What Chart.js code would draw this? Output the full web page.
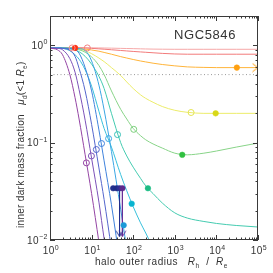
<!DOCTYPE html>
<html><head><meta charset="utf-8">
<script src="https://cdn.jsdelivr.net/npm/chart.js@4.4.1/dist/chart.umd.min.js"></script>
<style>html,body{margin:0;padding:0;background:#fff;}canvas{display:block;}</style>
</head><body>
<canvas id="c" width="273" height="273"></canvas>
<script>
// ---------------- data ----------------
const xGrid = [1, 1.5, 2, 3, 4, 5, 7, 10, 15, 20, 30, 50, 70, 100, 150, 200, 300, 500, 1000, 2000, 5000, 10000, 30000, 100000];

const curvePurple  = [0.935,0.90,0.80,0.50,0.29,0.175,0.075,0.030,0.0095,0.004];
const curveViolet  = [0.935,0.93,0.90,0.73,0.53,0.35,0.17,0.069,0.0245,0.0103,0.0035];
const curveIndigo  = [0.935,0.935,0.93,0.89,0.77,0.58,0.34,0.154,0.055,0.026,0.0081,0.0018];
const curveBlue    = [0.935,0.935,0.935,0.925,0.90,0.83,0.59,0.34,0.135,0.065,0.023,0.0052];
const curveSky     = [0.935,0.935,0.935,0.935,0.935,0.925,0.885,0.69,0.39,0.217,0.081,0.0207,0.008,0.0025];
const curveCyan    = [0.94,0.94,0.93,0.88,0.80,0.72,0.56,0.38,0.21,0.14,0.09,0.047,0.032,0.022,0.015,0.0118,0.0082,0.005];
const curveTeal    = [0.94,0.94,0.935,0.92,0.895,0.86,0.77,0.64,0.48,0.36,0.20,0.10,0.073,0.056,0.043,0.036,0.030,0.024,0.019,0.0168,0.0155,0.0148,0.0141,0.0136];
const curveGreen   = [0.94,0.94,0.94,0.935,0.92,0.90,0.85,0.76,0.62,0.50,0.34,0.22,0.175,0.14,0.118,0.107,0.097,0.088,0.078,0.075,0.078,0.082,0.09,0.099];
const curveYellow  = [0.94,0.94,0.94,0.935,0.93,0.915,0.88,0.82,0.74,0.68,0.59,0.49,0.42,0.36,0.31,0.285,0.26,0.235,0.215,0.205,0.20,0.20,0.20,0.20];
const curveOrange  = [0.945,0.945,0.945,0.94,0.935,0.93,0.915,0.895,0.87,0.845,0.81,0.765,0.74,0.715,0.69,0.675,0.655,0.635,0.615,0.60,0.593,0.59,0.59,0.59];
const curveRed     = [0.945,0.945,0.945,0.945,0.944,0.942,0.938,0.93,0.92,0.912,0.90,0.885,0.875,0.865,0.855,0.848,0.838,0.826,0.815,0.81,0.81,0.81,0.81,0.81];
const curvePink    = [0.945,0.945,0.945,0.945,0.945,0.945,0.944,0.942,0.94,0.938,0.935,0.93,0.927,0.924,0.92,0.917,0.914,0.912,0.91,0.91,0.91,0.91,0.91,0.91];

const openX  = [7.5, 9.9, 13, 17.3, 25.6, 42, 103, 2460, 3.4, 7.9];
const openY  = [0.062, 0.073, 0.085, 0.098, 0.110, 0.121, 0.137, 0.204, 0.94, 0.94];
const filledX = [59, 92, 226, 1510, 9600, 31000, 4.0];
const filledY = [0.0142, 0.0236, 0.034, 0.075, 0.20, 0.59, 0.94];
const limitX = [33, 40, 47, 55];
const limitY = [0.034, 0.034, 0.034, 0.034];
const limitStemX = [47, 55];
const limitFloor = 0.0109;
const arrowOrangeX = [100000];
const arrowOrangeY = [0.59];
const refLevel = 0.5;
const xTickValues = [1, 10, 100, 1000, 10000, 100000];
const xTickExps = ['0','1','2','3','4','5'];
const yTickValues = [1, 0.1, 0.01];
const yTickExps = ['0','\u22121','\u22122'];
const galaxyName = 'NGC5846';

// ---------------- styles ----------------
const curves = [
  [curvePurple,'#9444a4'],[curveViolet,'#7c52b8'],[curveIndigo,'#5466cc'],[curveBlue,'#3f82dc'],
  [curveSky,'#3aa6e4'],[curveCyan,'#38c0dc'],[curveTeal,'#44cbb0'],[curveGreen,'#88d488'],
  [curveYellow,'#ecec6a'],[curveOrange,'#ffb43a'],[curveRed,'#f27a7a'],[curvePink,'#f6a8a8']
];
const openColors = ['#9444a4','#7c52b8','#5466cc','#3f82dc','#3aa6e4','#38c0b8','#7cd07c','#e4e450','#f49090','#f28080'];
const filledColors = ['#1c9ad8','#08b4d0','#1cbc84','#30c040','#d8d818','#ffa010','#ff3010'];
const limitColors = ['#22308e','#1e2c88','#2c3096','#5c2a8e'];
const stemColors = ['#22308e','#6a3098'];

function pts(arr){ const out=[]; arr.forEach((v,i)=>{ if(v!=null) out.push({x:xGrid[i],y:v}); }); return out; }

function chevronRight(color){
  const c=document.createElement('canvas'); c.width=14; c.height=10;
  const g=c.getContext('2d'); g.strokeStyle=color; g.lineWidth=1;
  g.beginPath(); g.moveTo(1.5,1); g.lineTo(7,5); g.lineTo(1.5,9); g.stroke(); return c;
}
function chevronDown(color){
  const c=document.createElement('canvas'); c.width=9; c.height=14;
  const g=c.getContext('2d'); g.strokeStyle=color; g.lineWidth=1;
  g.beginPath(); g.moveTo(1,1.5); g.lineTo(4.5,7); g.lineTo(8,1.5); g.stroke(); return c;
}

const datasets = [];
// markers
datasets.push({data: openX.map((x,i)=>({x,y:openY[i]})), showLine:false, order:0, clip:false,
  pointRadius:3, pointBorderWidth:1, pointBackgroundColor:'rgba(0,0,0,0)', pointBorderColor:openColors});
datasets.push({data: filledX.map((x,i)=>({x,y:filledY[i]})), showLine:false, order:0, clip:false,
  pointRadius:2.8, pointBorderWidth:0.5, pointBackgroundColor:filledColors, pointBorderColor:filledColors});
datasets.push({data: limitX.map((x,i)=>({x,y:limitY[i]})), showLine:false, order:0, clip:false,
  pointRadius:2.8, pointBorderWidth:0.5, pointBackgroundColor:limitColors, pointBorderColor:limitColors});
limitStemX.forEach((x,i)=>{
  datasets.push({data:[{x,y:limitY[0]},{x,y:limitFloor}], borderColor:stemColors[i], borderWidth:1, order:1,
    pointRadius:[0,4], pointStyle:[false, chevronDown(stemColors[i])], clip:false});
});
datasets.push({data: arrowOrangeX.map((x,i)=>({x,y:arrowOrangeY[i]})), showLine:false, order:0, clip:false,
  pointRadius:5, pointStyle:chevronRight('#ffa010')});
// curves
curves.forEach(([arr,col])=>{
  datasets.push({data:pts(arr), borderColor:col, borderWidth:1, cubicInterpolationMode:'monotone', order:2, pointRadius:0});
});
// reference dotted line
datasets.push({data:[{x:xGrid[0],y:refLevel},{x:xGrid[xGrid.length-1],y:refLevel}], borderColor:'#9a9a9a', borderWidth:1, borderDash:[1,2.5], order:3, pointRadius:0});

function rich(ctx, segs, x, y, align){
  const F = s => (s.it?'italic ':'') + (s.sz||10) + 'px "Liberation Sans", Arial, sans-serif';
  let w=0; segs.forEach(s=>{ctx.font=F(s); w+=ctx.measureText(s.t).width;});
  let cx = align==='center'? x-w/2 : (align==='right'? x-w : x);
  segs.forEach(s=>{ctx.font=F(s); ctx.fillText(s.t, cx, y+(s.dy||0)); cx+=ctx.measureText(s.t).width;});
}

const deco = {
  id:'deco',
  afterDraw(chart){
    const {ctx, chartArea:a, scales:{x, y}} = chart;
    ctx.save();
    ctx.strokeStyle='#3a3a3a'; ctx.lineWidth=1;
    ctx.strokeRect(a.left+0.5, a.top+0.5, a.right-a.left-1, a.bottom-a.top-1);
    const seg=(x1,y1,x2,y2)=>{ctx.beginPath();ctx.moveTo(x1,y1);ctx.lineTo(x2,y2);ctx.stroke();};
    for(let d=0; d<=5; d++) for(let m=1;m<=9;m++){
      const v=m*Math.pow(10,d); if(v>1e5) break;
      const p=Math.round(x.getPixelForValue(v))+0.5; const L=(m===1)?5:2.5;
      seg(p,a.bottom,p,a.bottom-L); seg(p,a.top,p,a.top+L);
    }
    for(let d=-2; d<=0; d++) for(let m=1;m<=9;m++){
      const v=m*Math.pow(10,d); if(v>2.0001) break;
      const p=Math.round(y.getPixelForValue(v))+0.5; const L=(m===1)?5:2.5;
      seg(a.left,p,a.left+L,p); seg(a.right,p,a.right-L,p);
    }
    ctx.fillStyle='#333'; ctx.textBaseline='alphabetic';
    ctx.letterSpacing='0.5px';
    xTickValues.forEach((v,i)=>{
      rich(ctx,[{t:'10',sz:10},{t:xTickExps[i],sz:7,dy:-4.5}], x.getPixelForValue(v)+1, 254, 'center');
    });
    yTickValues.forEach((v,i)=>{
      rich(ctx,[{t:'10',sz:10},{t:yTickExps[i],sz:7,dy:-4.5}], a.left-2, y.getPixelForValue(v)+3.5, 'right');
    });
    // title
    ctx.letterSpacing='0.6px';
    rich(ctx,[{t:galaxyName,sz:13}], 205, 38.5, 'center');
    // x title
    ctx.letterSpacing='0.5px';
    rich(ctx,[{t:'halo outer radius   ',sz:10},{t:'R',it:true,sz:10},{t:'h',sz:6.5,dy:2.5},{t:'  /  ',sz:10},{t:'R',it:true,sz:10},{t:'e',sz:6.5,dy:2.5}], 95, 265, 'left');
    // y title
    ctx.translate(24, 228); ctx.rotate(-Math.PI/2);
    ctx.letterSpacing='0.3px';
    rich(ctx,[{t:'inner dark mass fraction   ',sz:10},{t:'\u03bc',it:true,sz:10},{t:'d',sz:6.5,dy:2.5},{t:'(<1 ',sz:10},{t:'R',it:true,sz:10},{t:'e',sz:6.5,dy:2.5},{t:')',sz:10}], 0, 0, 'left');
    ctx.restore();
  }
};

new Chart(document.getElementById('c').getContext('2d'), {
  type:'line',
  data:{datasets},
  options:{
    responsive:false, animation:false, devicePixelRatio:1,
    layout:{padding:{top:16,right:15,left:0,bottom:0}},
    plugins:{legend:{display:false}, tooltip:{enabled:false}},
    elements:{line:{borderWidth:1, tension:0}},
    scales:{
      x:{type:'logarithmic', min:1, max:100000, grid:{display:false, drawTicks:false}, border:{display:false}, ticks:{display:false}, afterFit(s){s.height=33;}},
      y:{type:'logarithmic', min:0.01, max:2, grid:{display:false, drawTicks:false}, border:{display:false}, ticks:{display:false}, afterFit(s){s.width=50;}}
    }
  },
  plugins:[deco]
});
</script>
</body></html>
